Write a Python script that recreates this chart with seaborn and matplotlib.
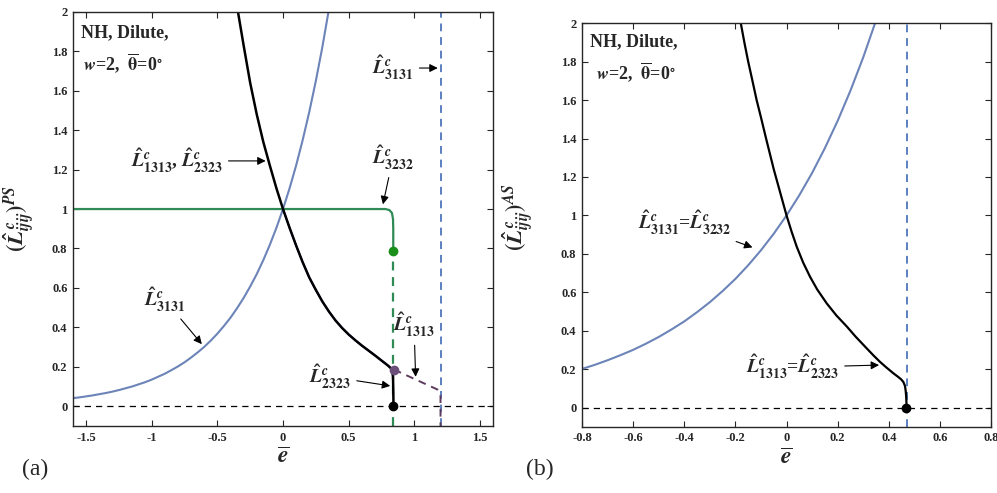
import numpy as np
import pandas as pd
import seaborn as sns
from matplotlib import pyplot as plt

# ---- data ----
# (a) plane strain
e_3131_a = [-1.6, -1.55, -1.5, -1.45, -1.4, -1.35, -1.3, -1.25, -1.2, -1.15, -1.1, -1.05,
            -1.0, -0.95, -0.9, -0.85, -0.8, -0.75, -0.7, -0.65, -0.6, -0.55, -0.5, -0.45,
            -0.4, -0.35, -0.3, -0.25, -0.2, -0.15, -0.1, -0.05, 0.0, 0.05, 0.1, 0.15,
            0.2, 0.25, 0.3, 0.35]
L_3131_a = [0.041, 0.045, 0.050, 0.055, 0.061, 0.067, 0.074, 0.082, 0.091, 0.100, 0.111, 0.122,
            0.135, 0.150, 0.165, 0.183, 0.202, 0.223, 0.247, 0.273, 0.301, 0.333, 0.368, 0.407,
            0.449, 0.497, 0.549, 0.607, 0.670, 0.741, 0.819, 0.905, 1.0, 1.105, 1.221, 1.350,
            1.492, 1.649, 1.822, 2.014]

e_1313_a = [-0.36, -0.343, -0.30, -0.25, -0.20, -0.15, -0.10, -0.05, 0.0, 0.05, 0.10, 0.15,
            0.20, 0.25, 0.30, 0.35, 0.40, 0.45, 0.50, 0.55, 0.60, 0.65, 0.70, 0.75, 0.80,
            0.82, 0.833, 0.838, 0.840, 0.842]
L_1313_a = [2.07, 2.0, 1.83, 1.64, 1.48, 1.34, 1.22, 1.105, 1.0, 0.905, 0.815, 0.73,
            0.653, 0.59, 0.531, 0.48, 0.435, 0.397, 0.364, 0.335, 0.308, 0.283, 0.258, 0.232,
            0.206, 0.194, 0.177, 0.15, 0.085, 0.0]

e_3232_a = [-1.6, -1.0, -0.5, 0.0, 0.5, 0.78, 0.81, 0.83, 0.838, 0.84, 0.84]
L_3232_a = [1.0, 1.0, 1.0, 1.0, 1.0, 1.0, 0.995, 0.98, 0.95, 0.90, 0.785]

e_1313_dash_a = [0.845, 1.176, 1.2, 1.2]
L_1313_dash_a = [0.186, 0.085, 0.06, -0.1]

e_crit_a = 0.84      # L_3232 / L_2323 limit
e_3131_crit_a = 1.2  # L_3131 asymptote

# (b) antiplane shear
e_3131_b = [-0.8, -0.75, -0.7, -0.65, -0.6, -0.55, -0.5, -0.45, -0.4, -0.35, -0.3, -0.25,
            -0.2, -0.15, -0.1, -0.05, 0.0, 0.05, 0.1, 0.15, 0.2, 0.25, 0.3, 0.35]
L_3131_b = [0.202, 0.223, 0.247, 0.273, 0.301, 0.333, 0.368, 0.407, 0.449, 0.497, 0.549, 0.607,
            0.670, 0.741, 0.819, 0.905, 1.0, 1.105, 1.221, 1.350, 1.492, 1.649, 1.822, 2.014]

e_1313_b = [-0.19, -0.179, -0.165, -0.15, -0.135, -0.117, -0.1, -0.08, -0.065, -0.05, -0.025,
            0.0, 0.02, 0.04, 0.065, 0.092, 0.12, 0.157, 0.195, 0.236, 0.27, 0.307, 0.34,
            0.366, 0.39, 0.418, 0.435, 0.448, 0.457, 0.463, 0.466, 0.468, 0.47]
L_1313_b = [2.07, 2.0, 1.9, 1.80, 1.71, 1.6, 1.51, 1.40, 1.32, 1.24, 1.12,
            1.0, 0.915, 0.837, 0.755, 0.681, 0.615, 0.543, 0.48, 0.422, 0.37, 0.318, 0.272,
            0.238, 0.21, 0.179, 0.162, 0.148, 0.134, 0.115, 0.09, 0.06, 0.0]

e_crit_b = 0.47

blue = '#6c84b8'
blue_dash = '#5b80c0'
green = '#2f8a55'
purple = '#5e3b5e'

sns.set_style("ticks")
plt.rcParams['font.family'] = ['Liberation Serif', 'DejaVu Serif']
plt.rcParams['mathtext.fontset'] = 'stix'
plt.rcParams['font.weight'] = 'bold'

fig = plt.figure(figsize=(9.97, 4.93), dpi=100)
ax1 = fig.add_axes([0.0732, 0.136, 0.4213, 0.840])
ax2 = fig.add_axes([0.5838, 0.134, 0.4102, 0.819])

arrow = dict(arrowstyle='-|>', color='black', lw=0.8, mutation_scale=12)
lab = lambda s: r'$\hat{\mathbfit{L}}^{\mathbfit{c}}_{\mathbf{' + s + '}}$'
cond = r'$\mathbfit{w}$=2,  $\overline{\mathbf{\theta}}$=0$^{\circ}$'

# ---------- (a) ----------
ax = ax1
ax.axhline(0, color='black', lw=0.9, ls=(0, (5, 4)))
ax.axvline(e_3131_crit_a, color=blue_dash, lw=1.4, ls=(0, (4, 3)))
ax.plot([e_crit_a, e_crit_a], [-0.1, 0.785], color=green, lw=1.6, ls=(0, (4, 3)))
sns.lineplot(x=e_1313_dash_a, y=L_1313_dash_a, ax=ax, sort=False, estimator=None,
             color=purple, lw=1.4, ls=(0, (4, 3)))
sns.lineplot(x=e_3131_a, y=L_3131_a, ax=ax, sort=False, estimator=None, color=blue, lw=1.5)
sns.lineplot(x=e_3232_a, y=L_3232_a, ax=ax, sort=False, estimator=None, color=green, lw=1.6)
sns.lineplot(x=e_1313_a[8:-4] + [0.85], y=L_1313_a[8:-4] + [0.188], ax=ax, sort=False,
             estimator=None, color='blue', lw=1.2)
sns.lineplot(x=e_1313_a, y=L_1313_a, ax=ax, sort=False, estimator=None, color='black', lw=1.8)
ax.plot([e_crit_a], [0.785], 'o', color='#1a8f1a', ms=6)
ax.plot([0.845], [0.186], 'o', color='#6b4d7a', ms=6)
ax.plot([e_crit_a], [0.0], 'o', color='black', ms=6)

ax.set_xlim(-1.6, 1.6)
ax.set_ylim(-0.1, 2)
ax.set_xticks([-1.5, -1, -0.5, 0, 0.5, 1, 1.5])
ax.set_xticklabels(['-1.5', '-1', '-0.5', '0', '0.5', '1', '1.5'])
ax.set_yticks([0, 0.2, 0.4, 0.6, 0.8, 1, 1.2, 1.4, 1.6, 1.8, 2])
ax.set_yticklabels(['0', '0.2', '0.4', '0.6', '0.8', '1', '1.2', '1.4', '1.6', '1.8', '2'])

ax.text(0.018, 0.97, 'NH, Dilute,', transform=ax.transAxes, fontsize=13, fontweight='bold',
        va='top')
ax.text(0.024, 0.905, cond, transform=ax.transAxes, fontsize=13, fontweight='bold', va='top')

ax.annotate(lab('3131'), xy=(1.2, 1.715), xytext=(0.68, 1.715), fontsize=14,
            va='center', arrowprops=arrow)
ax.annotate(lab('1313') + ', ' + lab('2323'), xy=(-0.111, 1.244), xytext=(-1.16, 1.244),
            fontsize=14, va='center', arrowprops=arrow)
ax.annotate(lab('3232'), xy=(0.757, 1.01), xytext=(0.68, 1.19), fontsize=14,
            va='bottom', arrowprops=arrow)
ax.annotate(lab('3131'), xy=(-0.605, 0.304), xytext=(-1.06, 0.47), fontsize=14,
            va='bottom', arrowprops=arrow)
ax.annotate(lab('1313'), xy=(1.011, 0.135), xytext=(0.84, 0.34), fontsize=14,
            va='bottom', arrowprops=arrow)
ax.annotate(lab('2323'), xy=(0.838, 0.101), xytext=(0.2, 0.15), fontsize=14,
            va='center', arrowprops=arrow)

ax.set_ylabel(r'$(\hat{\mathbfit{L}}^{\,\mathbfit{c}}_{\mathbfit{ijij}})^{\mathbfit{PS}}$',
              fontsize=16)
ax.yaxis.set_label_coords(-0.085, 0.5)

# ---------- (b) ----------
ax = ax2
ax.axhline(0, color='black', lw=0.9, ls=(0, (5, 4)))
ax.axvline(e_crit_b, color=blue_dash, lw=1.4, ls=(0, (4, 3)))
sns.lineplot(x=e_3131_b, y=L_3131_b, ax=ax, sort=False, estimator=None, color=blue, lw=1.5)
sns.lineplot(x=e_1313_b, y=L_1313_b, ax=ax, sort=False, estimator=None, color='black', lw=1.6)
ax.plot([0.468], [0.0], 'o', color='black', ms=6)

ax.set_xlim(-0.8, 0.8)
ax.set_ylim(-0.1, 2)
ax.set_xticks([-0.8, -0.6, -0.4, -0.2, 0, 0.2, 0.4, 0.6, 0.8])
ax.set_xticklabels(['-0.8', '-0.6', '-0.4', '-0.2', '0', '0.2', '0.4', '0.6', '0.8'])
ax.set_yticks([0, 0.2, 0.4, 0.6, 0.8, 1, 1.2, 1.4, 1.6, 1.8, 2])
ax.set_yticklabels(['0', '0.2', '0.4', '0.6', '0.8', '1', '1.2', '1.4', '1.6', '1.8', '2'])

ax.text(0.02, 0.975, 'NH, Dilute,', transform=ax.transAxes, fontsize=13, fontweight='bold',
        va='top')
ax.text(0.033, 0.91, cond, transform=ax.transAxes, fontsize=13, fontweight='bold', va='top')

ax.annotate(lab('3131') + '=' + lab('3232'), xy=(-0.123, 0.829), xytext=(-0.58, 0.96),
            fontsize=14, va='center', arrowprops=arrow)
ax.annotate(lab('1313') + '=' + lab('2323'), xy=(0.373, 0.222), xytext=(-0.16, 0.21),
            fontsize=14, va='center', arrowprops=arrow)

ax.set_ylabel(r'$(\hat{\mathbfit{L}}^{\,\mathbfit{c}}_{\mathbfit{ijij}})^{\mathbfit{AS}}$',
              fontsize=16)
ax.yaxis.set_label_coords(-0.113, 0.52)

for ax in (ax1, ax2):
    ax.tick_params(direction='in', top=True, right=True, length=4, width=0.8, labelsize=9,
                   pad=4)
    for t in ax.get_xticklabels() + ax.get_yticklabels():
        t.set_fontweight('bold')
    for s in ax.spines.values():
        s.set_visible(True)
        s.set_linewidth(1.0)
    ax.set_xlabel(r'$\overline{\mathbfit{e}}$', fontsize=17, labelpad=0)
    ax.xaxis.set_label_coords(0.5, -0.052)

fig.text(0.035, 0.047, '(a)', fontsize=17, fontweight='normal', ha='center', va='center')
fig.text(0.541, 0.047, '(b)', fontsize=17, fontweight='normal', ha='center', va='center')

fig.savefig('out.png', dpi=100)
